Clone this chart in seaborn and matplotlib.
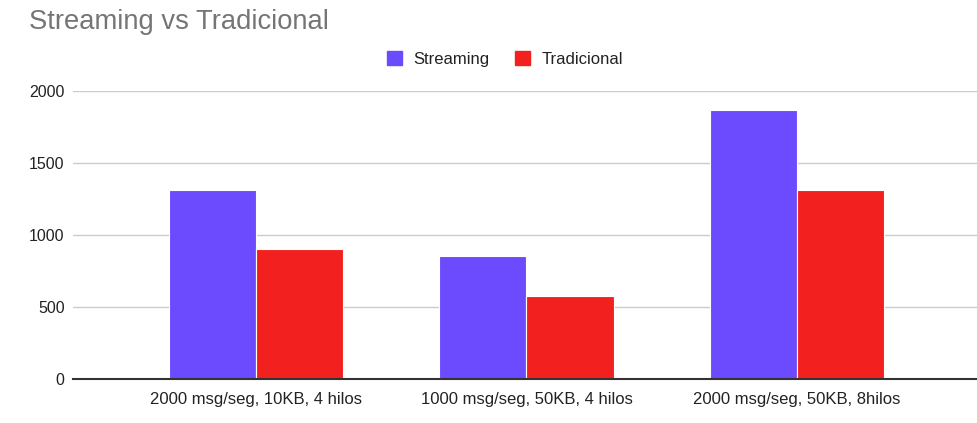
import pandas as pd
import matplotlib.pyplot as plt
import seaborn as sns

# Chart data
categories = ["2000 msg/seg, 10KB, 4 hilos", "1000 msg/seg, 50KB, 4 hilos", "2000 msg/seg, 50KB, 8hilos"]
streaming = [1314, 856, 1870]
tradicional = [903, 578, 1314]
series_names = ["Streaming", "Tradicional"]
colors = ["#6c4bfe", "#f2211f"]


def build_frame():
    rows = []
    for cat, s, t in zip(categories, streaming, tradicional):
        rows.append({"config": cat, "tipo": series_names[0], "valor": s})
        rows.append({"config": cat, "tipo": series_names[1], "valor": t})
    return pd.DataFrame(rows)


def main():
    df = build_frame()
    sns.set_style("white")
    plt.rcParams["font.family"] = ["Liberation Sans", "DejaVu Sans"]

    fig = plt.figure(figsize=(9.77, 4.23), dpi=100)
    ax = fig.add_axes([73 / 977, 1 - 379 / 423, 1 - 73 / 977, (379 - 91) / 423])

    sns.barplot(data=df, x="config", y="valor", hue="tipo", palette=colors, saturation=1,
                width=0.645, edgecolor="white", linewidth=0.8, ax=ax, legend=False)

    ax.set_ylim(0, 2000)
    ax.set_xlim(-0.677, 2.666)
    ax.set_yticks([0, 500, 1000, 1500, 2000])
    ax.set_xlabel("")
    ax.set_ylabel("")
    ax.grid(axis="y", color="#cccccc", linewidth=1)
    ax.set_axisbelow(True)
    for side in ["top", "right", "left"]:
        ax.spines[side].set_visible(False)
    ax.spines["bottom"].set_color("#333333")
    ax.spines["bottom"].set_linewidth(1.5)
    ax.spines["bottom"].set_zorder(5)
    ax.tick_params(axis="y", length=0, pad=6, labelsize=11.5, labelcolor="#222222")
    ax.tick_params(axis="x", length=0, pad=9, labelsize=12, labelcolor="#222222")

    fig.text(29 / 977, 1 - 22 / 423, "Streaming vs Tradicional", fontsize=19.7,
             color="#757575", va="center", ha="left")

    handles = [plt.Rectangle((0, 0), 1, 1, color=c) for c in colors]
    fig.legend(handles, series_names, loc="center", bbox_to_anchor=(505 / 977, 1 - 59 / 423),
               ncol=2, frameon=False, handlelength=0.9, handleheight=0.9,
               columnspacing=1.5, handletextpad=0.7, fontsize=12, labelcolor="#222222")

    fig.savefig("out.png", dpi=100)
    plt.close(fig)


if __name__ == "__main__":
    main()
